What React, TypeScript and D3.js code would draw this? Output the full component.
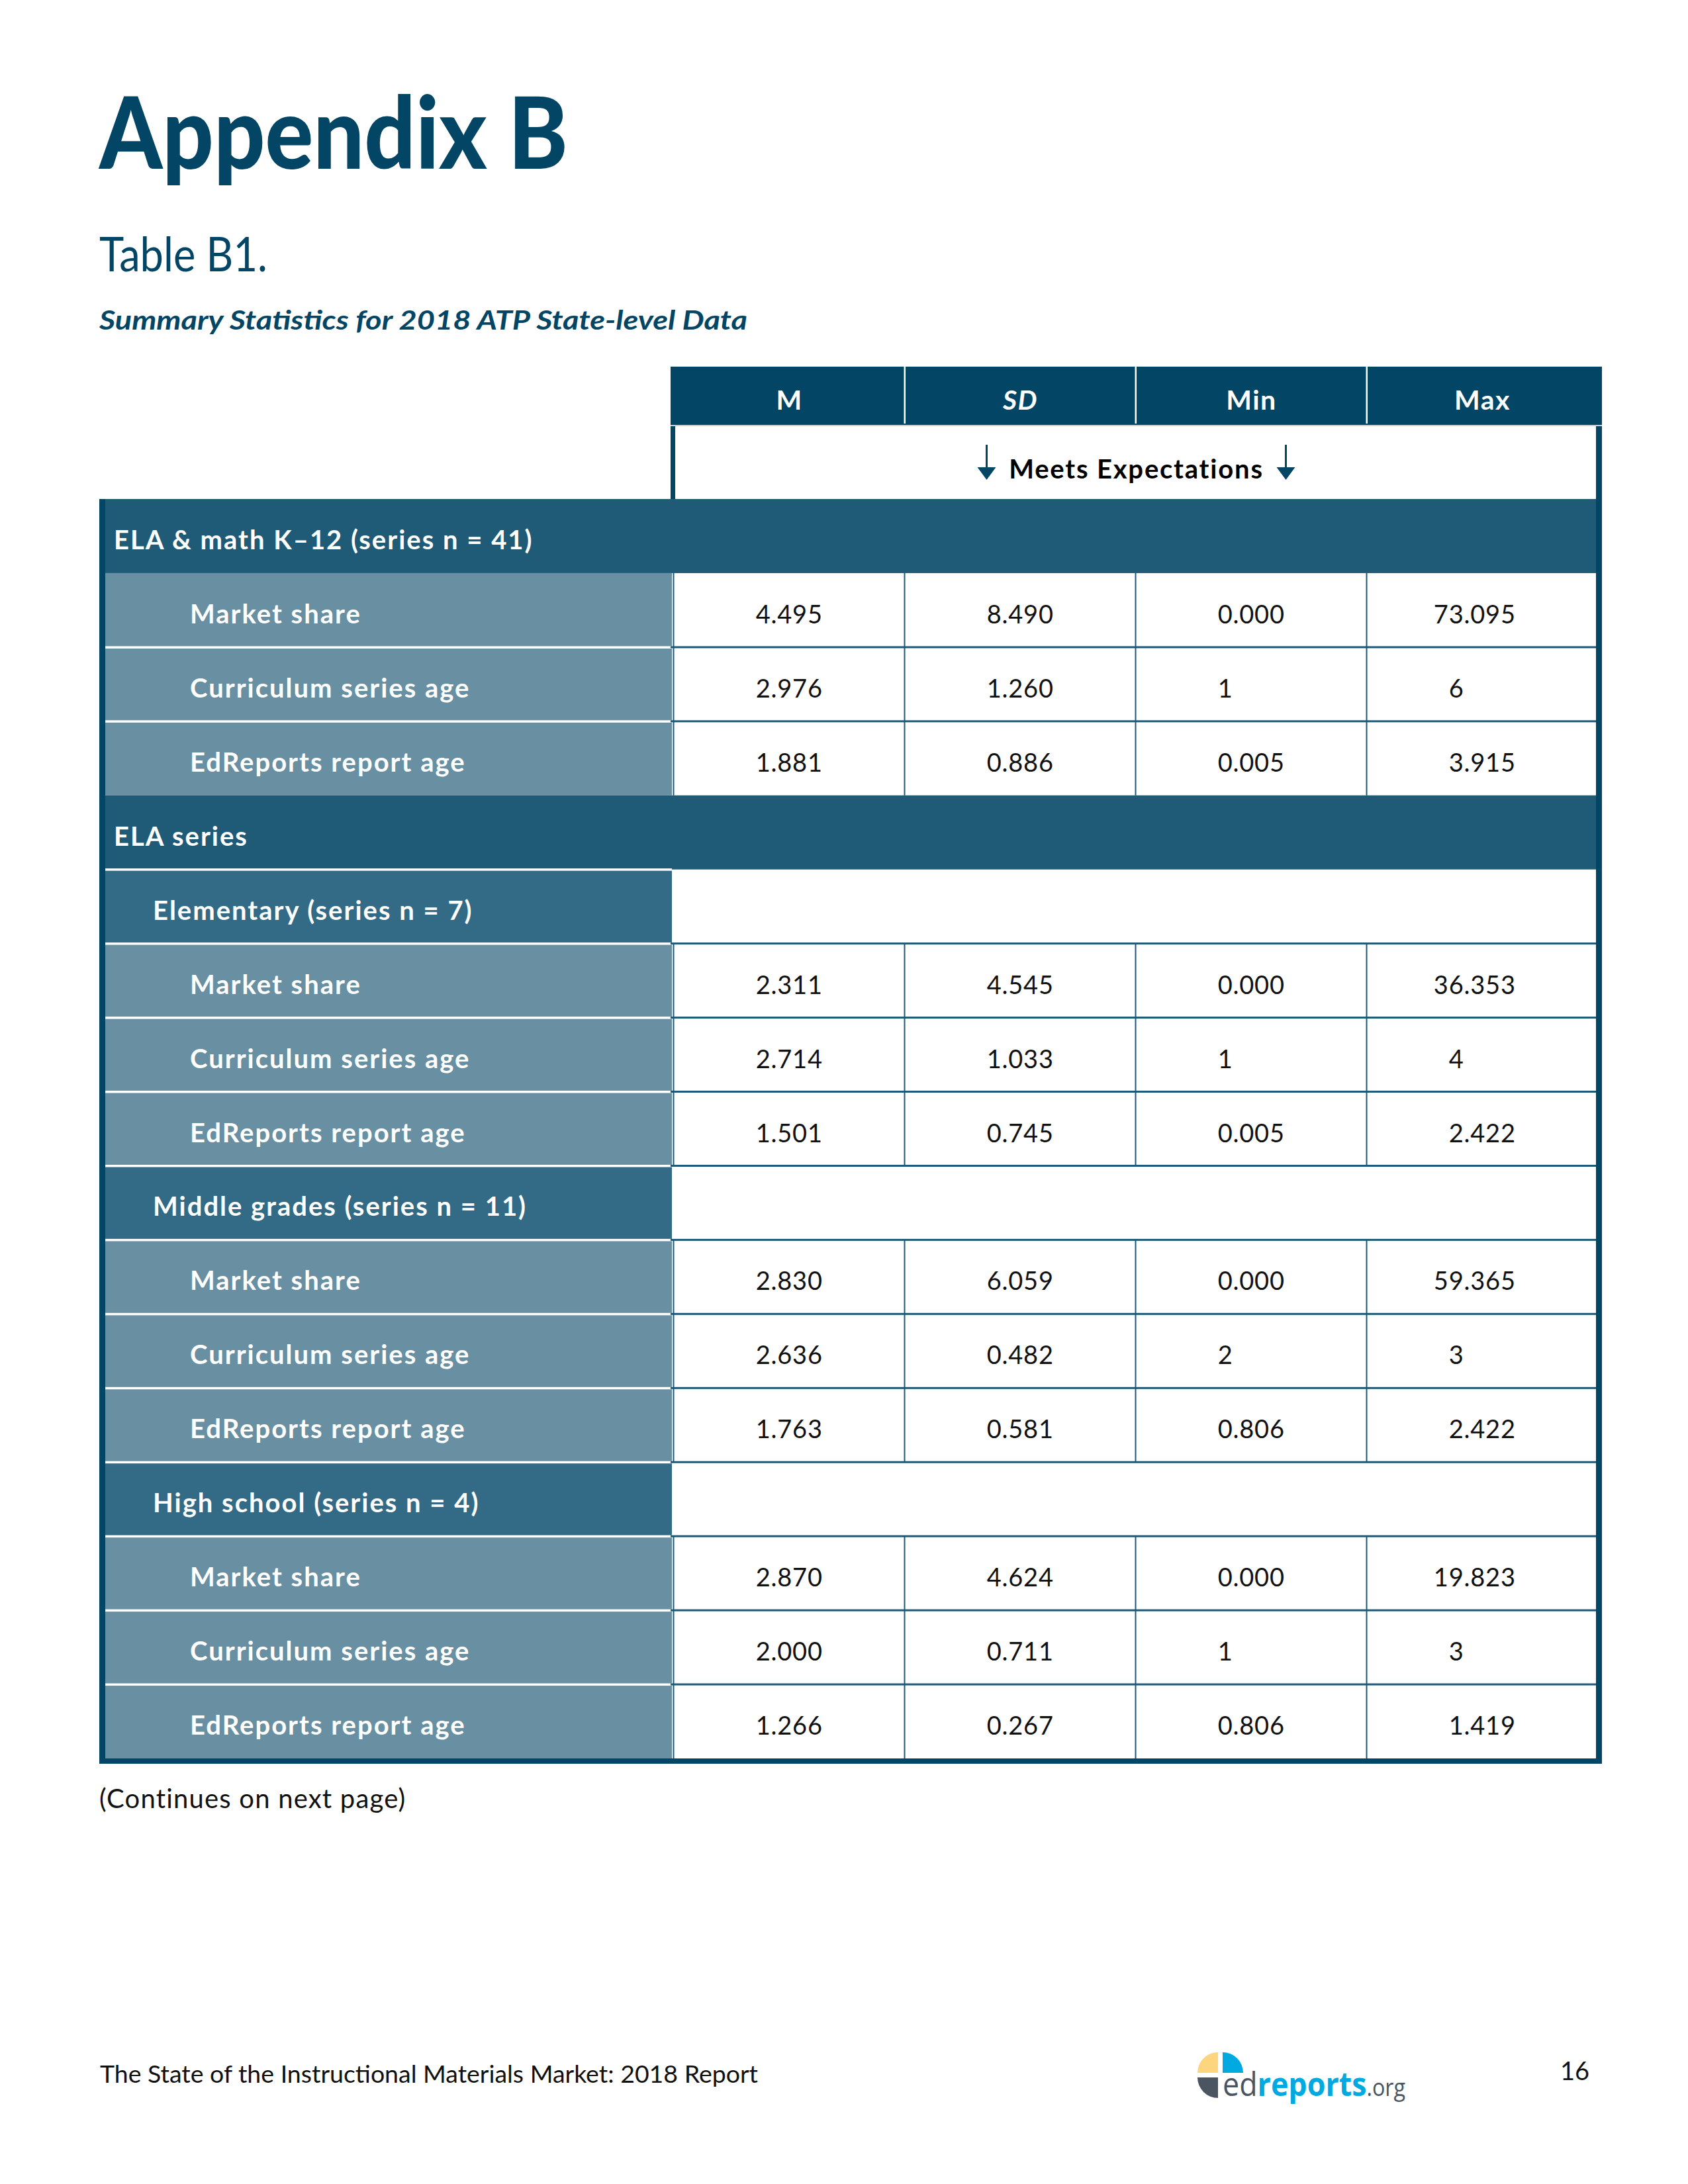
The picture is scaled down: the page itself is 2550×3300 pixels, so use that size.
import React from "react";
import * as d3 from "d3";

// ---------- data ----------
const statColumns = ["M", "SD", "Min", "Max"];
const rowLabels = [
  "ELA & math K–12 (series n = 41)",
  "Market share",
  "Curriculum series age",
  "EdReports report age",
  "ELA series",
  "Elementary (series n = 7)",
  "Market share",
  "Curriculum series age",
  "EdReports report age",
  "Middle grades (series n = 11)",
  "Market share",
  "Curriculum series age",
  "EdReports report age",
  "High school (series n = 4)",
  "Market share",
  "Curriculum series age",
  "EdReports report age",
];
const rowLevels = [0, 2, 2, 2, 0, 1, 2, 2, 2, 1, 2, 2, 2, 1, 2, 2, 2];
const meanValues = ["", "4.495", "2.976", "1.881", "", "", "2.311", "2.714", "1.501", "", "2.830", "2.636", "1.763", "", "2.870", "2.000", "1.266"];
const sdValues = ["", "8.490", "1.260", "0.886", "", "", "4.545", "1.033", "0.745", "", "6.059", "0.482", "0.581", "", "4.624", "0.711", "0.267"];
const minValues = ["", "0.000", "1", "0.005", "", "", "0.000", "1", "0.005", "", "0.000", "2", "0.806", "", "0.000", "1", "0.806"];
const maxValues = ["", "73.095", "6", "3.915", "", "", "36.353", "4", "2.422", "", "59.365", "3", "2.422", "", "19.823", "3", "1.419"];
const valueColumns = [meanValues, sdValues, minValues, maxValues];

const titleText = "Appendix B";
const tableNumber = "Table B1.";
const tableCaption = "Summary Statistics for 2018 ATP State-level Data";
const subHeader = "Meets Expectations";
const continuesText = "(Continues on next page)";
const footerText = "The State of the Instructional Materials Market: 2018 Report";
const pageNumber = "16";

// ---------- style ----------
const DARK = "#034565";
const GROUP = "#1f5a76";
const SUBGROUP = "#336a85";
const ITEM = "#6890a2";
const GRID = "#1d5877";
const FONT = "Lato, 'Open Sans', sans-serif";

export default function App() {
  const W = 2550, H = 3300;
  const tableLeft = 150, tableRight = 2420;
  const labelLeft = 159, labelRight = 1015;
  const border = 9;
  const y = d3.scaleLinear().domain([0, rowLabels.length]).range([754, 2657]);
  const x = d3.scaleBand().domain(statColumns).range([1018, 2414]);
  const dataLeft = 1013;
  const headerTop = 554, headerBottom = 642;
  const rowH = y(1) - y(0);

  const arc = d3.arc();
  const logoCx = 1843.5, logoCy = 3135.5, logoR = 31, gap = 3.5;
  const quads = [
    { s: -Math.PI / 2, e: 0, dx: -gap, dy: -gap, fill: "#fdd57e" },
    { s: 0, e: Math.PI / 2, dx: gap, dy: -gap, fill: "#00a9e0" },
    { s: Math.PI, e: (3 * Math.PI) / 2, dx: -gap, dy: gap, fill: "#4a5561" },
  ];

  const splitVal = (v: string) => {
    const i = v.indexOf(".");
    return i < 0 ? [v, ""] : [v.slice(0, i), v.slice(i)];
  };

  return (
    <svg width={W} height={H} style={{ position: "absolute", left: 0, top: 0, background: "#fff" }} fontFamily={FONT}>
      <rect x={0} y={0} width={W} height={H} fill="#fff" />
      {/* titles */}
      <text x={150} y={255} fontSize={150} fontWeight={900} fill={DARK} textLength={708} lengthAdjust="spacingAndGlyphs">{titleText}</text>
      <text x={150} y={410} fontSize={72} fill={DARK} textLength={254} lengthAdjust="spacingAndGlyphs">{tableNumber}</text>
      <text x={150} y={498} fontSize={40} fontWeight={700} fontStyle="italic" fill={DARK} textLength={979} lengthAdjust="spacingAndGlyphs">{tableCaption}</text>

      {/* header */}
      <rect x={dataLeft} y={headerTop} width={tableRight - dataLeft} height={headerBottom - headerTop} fill={DARK} />
      {statColumns.slice(1).map((c) => (
        <rect key={"hd" + c} x={(x(c) as number) - 1.5} y={headerTop} width={2.5} height={headerBottom - headerTop - 2} fill="#fff" />
      ))}
      {statColumns.map((c) => (
        <text key={"h" + c} x={(x(c) as number) + x.bandwidth() / 2} y={619} textAnchor="middle" fontSize={41} fontWeight={700} letterSpacing={1.5} fontStyle={c === "SD" ? "italic" : "normal"} fill="#fff">{c}</text>
      ))}
      {/* meets box */}
      <rect x={dataLeft} y={headerBottom} width={tableRight - dataLeft} height={y(0) - headerBottom} fill={DARK} />
      <rect x={dataLeft + 7} y={headerBottom + 2} width={tableRight - dataLeft - 16} height={y(0) - headerBottom - 2} fill="#fff" />
      <rect x={dataLeft} y={headerBottom} width={tableRight - dataLeft} height={2} fill="#c9d3d9" />
      <text x={(dataLeft + tableRight) / 2} y={723} textAnchor="middle" fontSize={40} fontWeight={700} letterSpacing={1.8} fill="#000">{subHeader}</text>
      {[-226, 226].map((dx) => {
        const ax = (dataLeft + tableRight) / 2 + dx;
        return (
          <g key={"ar" + dx} fill={DARK} stroke="none">
            <rect x={ax - 1.5} y={672} width={3} height={38} />
            <path d={`M${ax - 14},${706} L${ax + 14},${706} L${ax},${725} Z`} />
          </g>
        );
      })}

      {/* outer frame */}
      <rect x={tableLeft} y={y(0)} width={tableRight - tableLeft} height={y(rowLabels.length) - y(0) + 8} fill={DARK} />
      <rect x={labelLeft} y={y(0)} width={tableRight - border - labelLeft} height={y(rowLabels.length) - y(0)} fill="#fff" />

      {/* rows */}
      {rowLabels.map((label, i) => {
        const lvl = rowLevels[i];
        const top = y(i);
        const prev = i > 0 ? rowLevels[i - 1] : -1;
        const whiteTop = lvl > 0 && !(lvl === 2 && prev === 0);
        const labelBase = top + rowH / 2 + 20;
        if (lvl === 0) {
          return (
            <g key={"r" + i}>
              <rect x={tableLeft} y={top} width={tableRight - tableLeft} height={rowH} fill={GROUP} />
              <rect x={tableLeft} y={top} width={border} height={rowH} fill={DARK} />
              <rect x={tableRight - border} y={top} width={border} height={rowH} fill={DARK} />
              <text x={172} y={labelBase} fontSize={40} fontWeight={700} letterSpacing={2} fill="#fff">{label}</text>
            </g>
          );
        }
        return (
          <g key={"r" + i}>
            <rect x={labelLeft} y={top} width={labelRight - labelLeft} height={rowH} fill={lvl === 1 ? SUBGROUP : ITEM} />
            {whiteTop && <rect x={labelLeft} y={top - 1.5} width={labelRight - labelLeft} height={3.5} fill="#fff" />}
            <text x={lvl === 1 ? 231 : 287} y={labelBase} fontSize={40} fontWeight={700} letterSpacing={2} fill="#fff">{label}</text>
            {/* data grid */}
            {prev !== 0 && <rect x={dataLeft} y={top - 1.5} width={tableRight - border - dataLeft} height={3} fill={GRID} />}
            {lvl === 2 && statColumns.map((c) => (
              <rect key={"v" + c} x={(x(c) as number) - 1.5} y={top} width={2} height={rowH} fill={GRID} />
            ))}
            {lvl === 2 && statColumns.map((c, ci) => {
              const [intPart, frac] = splitVal(valueColumns[ci][i]);
              const dec = (x(c) as number) + x.bandwidth() / 2 - 28;
              const by = top + rowH / 2 + 20;
              return (
                <g key={"t" + c} fontSize={38} letterSpacing={0.8} fill="#111">
                  <text x={dec} y={by} textAnchor="end">{intPart}</text>
                  {frac && <text x={dec} y={by} textAnchor="start">{frac}</text>}
                </g>
              );
            })}
          </g>
        );
      })}

      {/* continues */}
      <text x={150} y={2732} fontSize={40} letterSpacing={1.2} fill="#111">{continuesText}</text>

      {/* footer */}
      <text x={151} y={3147} fontSize={37} fill="#111" textLength={994} lengthAdjust="spacingAndGlyphs">{footerText}</text>
      <text x={2401} y={3143} fontSize={38} textAnchor="end" fill="#111">{pageNumber}</text>
      <g>
        {quads.map((q, i) => (
          <path
            key={"q" + i}
            transform={`translate(${logoCx + q.dx},${logoCy + q.dy})`}
            d={arc({ innerRadius: 0, outerRadius: logoR, startAngle: q.s, endAngle: q.e } as any) as string}
            fill={q.fill}
          />
        ))}
        <text x={1847} y={3167} fontSize={50} fontFamily="'Open Sans', sans-serif" textLength={276} lengthAdjust="spacingAndGlyphs">
          <tspan fill="#4a5561">ed</tspan>
          <tspan fill="#00a9e0" fontWeight={700}>reports</tspan>
          <tspan fill="#4a5561" fontSize={36}>.org</tspan>
        </text>
      </g>
    </svg>
  );
}
